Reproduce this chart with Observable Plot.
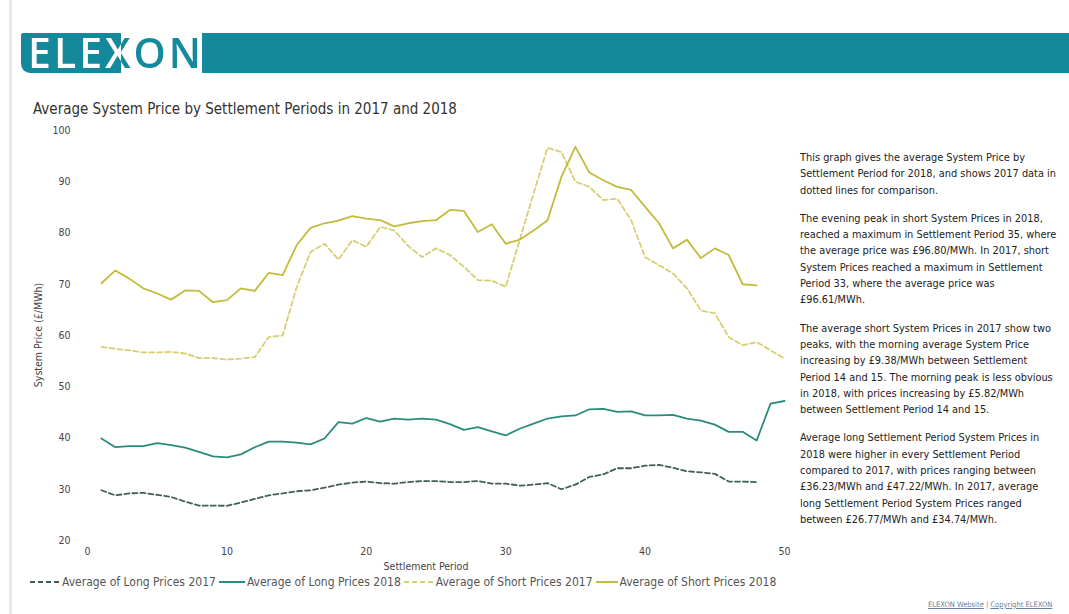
<!DOCTYPE html>
<html>
<head>
<meta charset="utf-8">
<script src="https://cdn.jsdelivr.net/npm/d3@7"></script>
<script src="https://cdn.jsdelivr.net/npm/@observablehq/plot@0.6"></script>
<style>
  html, body { margin: 0; padding: 0; background: #fff; }
  #page { position: relative; width: 1069px; height: 614px; overflow: hidden; background: #fff; font-family: "DejaVu Sans Condensed", "DejaVu Sans", sans-serif; }
  #edge { position: absolute; left: 9px; top: 0; width: 3px; height: 614px; background: #e8e8e8; }
  #logobox { position: absolute; left: 21px; top: 33px; width: 100px; height: 40px; background: #13899b; border-radius: 2px 0 0 9px; }
  #logotext { position: absolute; left: 28px; top: 28px; font-family: "Open Sans", sans-serif; font-weight: 600; font-size: 41px; letter-spacing: 3px; line-height: 48px;
    background: linear-gradient(to right, #fff 0px, #fff 93px, #13899b 93px, #13899b 100%);
    -webkit-background-clip: text; background-clip: text; color: transparent; white-space: nowrap; }
  #bar { position: absolute; left: 202px; top: 33px; width: 867px; height: 40px; background: #13899b; }
  #title { position: absolute; left: 33px; top: 100px; font-size: 15px; color: #333; white-space: nowrap; }
  #chart { position: absolute; left: 0; top: 120px; }
  #ylabel { position: absolute; left: 38px; top: 335px; transform: translate(-50%, -50%) rotate(-90deg); font-size: 10.5px; color: #444; white-space: nowrap; }
  #xlabel { position: absolute; left: 426px; top: 560px; transform: translateX(-50%); font-size: 10.5px; color: #444; white-space: nowrap; }
  #notes { position: absolute; left: 800px; top: 150px; font-size: 10.9px; line-height: 16.3px; color: #222; white-space: nowrap; }
  #notes p { margin: 0 0 12px 0; }
  #legend { position: absolute; left: 30px; top: 575px; font-size: 12px; color: #555; white-space: nowrap; display: flex; align-items: center; }
  #legend .it { display: flex; align-items: center; margin-right: 3px; }
  #legend svg { margin-right: 2px; }
  #footer { position: absolute; left: 928px; top: 600px; font-size: 7.5px; color: #6b7fa0; white-space: nowrap; }
  #footer span { text-decoration: underline; }
</style>
</head>
<body>
<div id="page">
  <div id="edge"></div>
  <div id="logobox"></div>
  <div id="logotext">ELEXON</div>
  <div id="bar"></div>
  <div id="title">Average System Price by Settlement Periods in 2017 and 2018</div>
  <div id="chart"></div>
  <div id="ylabel">System Price (£/MWh)</div>
  <div id="xlabel">Settlement Period</div>
  <div id="notes">
    <p>This graph gives the average System Price by<br>Settlement Period for 2018, and shows 2017 data in<br>dotted lines for comparison.</p>
    <p>The evening peak in short System Prices in 2018,<br>reached a maximum in Settlement Period 35, where<br>the average price was £96.80/MWh. In 2017, short<br>System Prices reached a maximum in Settlement<br>Period 33, where the average price was<br>£96.61/MWh.</p>
    <p>The average short System Prices in 2017 show two<br>peaks, with the morning average System Price<br>increasing by £9.38/MWh between Settlement<br>Period 14 and 15. The morning peak is less obvious<br>in 2018, with prices increasing by £5.82/MWh<br>between Settlement Period 14 and 15.</p>
    <p>Average long Settlement Period System Prices in<br>2018 were higher in every Settlement Period<br>compared to 2017, with prices ranging between<br>£36.23/MWh and £47.22/MWh. In 2017, average<br>long Settlement Period System Prices ranged<br>between £26.77/MWh and £34.74/MWh.</p>
  </div>
  <div id="legend"></div>
  <div id="footer"><span>ELEXON Website</span> | <span>Copyright ELEXON</span></div>
</div>
<script>
// ---- data ----
const seriesNames = ["Average of Long Prices 2017", "Average of Long Prices 2018", "Average of Short Prices 2017", "Average of Short Prices 2018"];
const long2017 = [29.8,28.8,29.2,29.3,28.9,28.5,27.6,26.8,26.8,26.77,27.4,28.1,28.8,29.2,29.6,29.8,30.3,30.9,31.3,31.5,31.2,31.1,31.4,31.6,31.6,31.4,31.4,31.6,31.1,31.1,30.7,30.9,31.2,30.0,30.9,32.4,32.9,34.1,34.1,34.6,34.74,34.2,33.5,33.3,33.0,31.5,31.5,31.4];
const long2018 = [39.9,38.2,38.4,38.4,39.0,38.6,38.1,37.3,36.4,36.23,36.8,38.2,39.3,39.3,39.1,38.75,39.9,43.1,42.8,43.9,43.2,43.8,43.6,43.8,43.6,42.7,41.6,42.1,41.3,40.5,41.8,42.8,43.8,44.2,44.4,45.6,45.7,45.1,45.2,44.4,44.4,44.5,43.8,43.4,42.6,41.2,41.2,39.5,46.7,47.22];
const short2017 = [57.8,57.4,57.1,56.7,56.7,56.8,56.5,55.6,55.6,55.3,55.5,55.8,59.7,60.0,69.4,76.3,77.9,74.8,78.6,77.3,81.2,80.5,77.5,75.3,77.0,75.7,73.4,70.8,70.7,69.5,78.6,87.7,96.61,95.8,90.0,89.0,86.4,86.7,82.5,75.3,73.7,72.1,69.2,64.9,64.3,59.7,58.1,58.7,57.1,55.5];
const short2018 = [70.2,72.7,71.1,69.2,68.2,67.0,68.8,68.7,66.5,66.9,69.2,68.7,72.2,71.8,77.6,81.0,81.9,82.4,83.3,82.8,82.5,81.3,81.9,82.3,82.5,84.5,84.3,80.2,81.7,77.9,78.7,80.5,82.5,91.0,96.8,91.8,90.3,89.0,88.4,85.1,81.9,77.0,78.7,75.1,77.0,75.7,70.0,69.8];
const xTicks = [0, 10, 20, 30, 40, 50];
const yTicks = [20, 30, 40, 50, 60, 70, 80, 90, 100];

// ---- styles ----
const styles = [
  {stroke: "#3f5f58", dash: "5,3"},
  {stroke: "#2a8c7c", dash: null},
  {stroke: "#d6cf72", dash: "5,3"},
  {stroke: "#c3bb3c", dash: null}
];
const allSeries = [long2017, long2018, short2017, short2018];
const rows = allSeries.map(vals => vals.map((v, i) => ({period: i + 1, value: v})));

const marks = rows.map((data, k) => Plot.line(data, {
  x: "period", y: "value",
  stroke: styles[k].stroke, strokeWidth: 1.8,
  strokeDasharray: styles[k].dash || undefined
}));

const chart = Plot.plot({
  width: 800, height: 460,
  marginLeft: 87, marginRight: 16, marginTop: 10, marginBottom: 40,
  style: {fontFamily: "'DejaVu Sans Condensed', 'DejaVu Sans', sans-serif", fontSize: "10.5px", color: "#444", background: "transparent"},
  x: {domain: [0, 50], ticks: xTicks, tickSize: 0, tickPadding: 7, label: null},
  y: {domain: [20, 100], ticks: yTicks, tickSize: 0, tickPadding: 17, label: null},
  marks
});
document.getElementById("chart").appendChild(chart);

// ---- legend ----
const lg = document.getElementById("legend");
const swW = [30, 26, 30, 22];
seriesNames.forEach((name, k) => {
  const it = document.createElement("span");
  it.className = "it";
  const dash = styles[k].dash ? `stroke-dasharray="5,3"` : "";
  it.innerHTML = `<svg width="${swW[k]}" height="8"><line x1="0" y1="4" x2="${swW[k]}" y2="4" stroke="${styles[k].stroke}" stroke-width="2" ${dash}/></svg>${name}`;
  lg.appendChild(it);
});
</script>
</body>
</html>
